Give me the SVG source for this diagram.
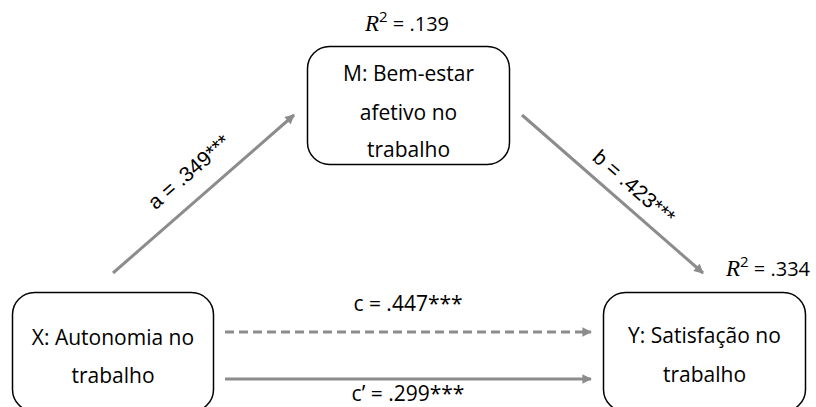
<svg xmlns="http://www.w3.org/2000/svg" width="816" height="407" viewBox="0 0 816 407">
  <style>
    .box { fill: #ffffff; stroke: #000000; stroke-width: 1.5; }
    .lbl { font-family: "Open Sans", "Liberation Sans", sans-serif; font-size: 21px; fill: #000000; text-anchor: middle; }
    .path-lbl { font-family: "Liberation Sans", Arial, sans-serif; font-size: 21px; fill: #000000; text-anchor: middle; }
    .r2 { font-family: "Open Sans", "Liberation Sans", sans-serif; font-size: 20px; fill: #000000; text-anchor: middle; }
    .r2 .it { font-family: "Liberation Serif", "DejaVu Serif", serif; font-style: italic; font-size: 23px; }
    .edge { stroke: #8c8c8c; stroke-width: 3; fill: none; marker-end: url(#head); }
    .dashed { stroke-dasharray: 9 5; }
  </style>
  <defs>
    <marker id="head" viewBox="0 0 10 10" refX="9" refY="5" markerWidth="3.6" markerHeight="3.2" orient="auto" markerUnits="strokeWidth">
      <path d="M0,0 L10,5 L0,10 Z" fill="#8c8c8c"/>
    </marker>
  </defs>

  <!-- connectors with path coefficients -->
  <g id="connectors">
    <line class="edge" x1="113" y1="273" x2="294" y2="115"/>
    <line class="edge" x1="522" y1="115" x2="703" y2="273"/>
    <line class="edge dashed" x1="225" y1="332" x2="591" y2="332"/>
    <line class="edge" x1="225" y1="379" x2="591" y2="379"/>
    <text class="path-lbl" transform="translate(189,172) rotate(-41)" x="0" y="7">a = .349***</text>
    <text class="path-lbl" transform="translate(634,187) rotate(41)" x="0" y="7">b = .423***</text>
    <text class="lbl" x="408" y="311">c = .447***</text>
    <text class="lbl" x="408" y="401">c’ = .299***</text>
  </g>

  <!-- mediator -->
  <g id="node-m">
    <text class="r2" x="407" y="31"><tspan class="it">R</tspan><tspan dy="-9" font-size="15">2</tspan><tspan dy="9"> = .139</tspan></text>
    <rect class="box" x="307.5" y="46.5" width="202" height="118" rx="22" ry="22"/>
    <text class="lbl" x="408.5" y="81">M: Bem-estar</text>
    <text class="lbl" x="408.5" y="120">afetivo no</text>
    <text class="lbl" x="408.5" y="157">trabalho</text>
  </g>

  <!-- predictor -->
  <g id="node-x">
    <rect class="box" x="12.5" y="292.5" width="201" height="119" rx="22" ry="22"/>
    <text class="lbl" x="113" y="345">X: Autonomia no</text>
    <text class="lbl" x="113" y="383">trabalho</text>
  </g>

  <!-- outcome -->
  <g id="node-y">
    <text class="r2" x="768" y="276"><tspan class="it">R</tspan><tspan dy="-9" font-size="15">2</tspan><tspan dy="9"> = .334</tspan></text>
    <rect class="box" x="603.5" y="292.5" width="202" height="119" rx="22" ry="22"/>
    <text class="lbl" x="704.5" y="343">Y: Satisfação no</text>
    <text class="lbl" x="704.5" y="382">trabalho</text>
  </g>
</svg>
